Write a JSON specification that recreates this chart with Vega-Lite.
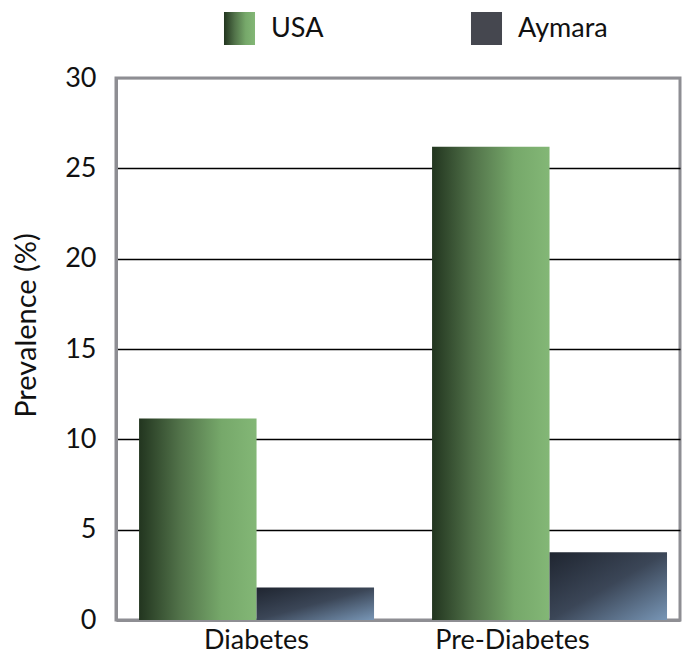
{
  "$schema": "https://vega.github.io/schema/vega-lite/v6.json",
  "autosize": {"type": "none"},
  "width": 564,
  "height": 542,
  "padding": {"left": 116, "top": 78, "right": 2, "bottom": 36},
  "background": "white",
  "config": {
    "font": "Lato",
    "view": {"stroke": "#8e8e93", "strokeWidth": 3}
  },
  "data": {
    "values": [
      {"category": "Diabetes", "group": "USA", "prevalence": 11.15},
      {"category": "Diabetes", "group": "Aymara", "prevalence": 1.8},
      {"category": "Pre-Diabetes", "group": "USA", "prevalence": 26.2},
      {"category": "Pre-Diabetes", "group": "Aymara", "prevalence": 3.75}
    ]
  },
  "encoding": {
    "x": {
      "field": "category",
      "type": "nominal",
      "sort": ["Diabetes", "Pre-Diabetes"],
      "scale": {"paddingInner": 0.198, "paddingOuter": 0.0615, "align": 0.64},
      "axis": {
        "title": null,
        "labelAngle": 0,
        "ticks": false,
        "domainColor": "#8e8e93",
        "domainWidth": 3,
        "labelFontSize": 27,
        "labelColor": "#111",
        "labelPadding": 7,
        "labelOffset": {"condition": {"test": "datum.value === 'Pre-Diabetes'", "value": -37}, "value": 0}
      }
    },
    "xOffset": {
      "field": "group",
      "type": "nominal",
      "sort": ["USA", "Aymara"],
      "scale": {"domain": ["USA", "Aymara"], "paddingInner": 0, "paddingOuter": 0}
    },
    "y": {
      "field": "prevalence",
      "type": "quantitative",
      "scale": {"domain": [0, 30], "nice": false},
      "axis": {
        "title": "Prevalence (%)",
        "values": [0, 5, 10, 15, 20, 25, 30],
        "ticks": false,
        "domainColor": "#8e8e93",
        "domainWidth": 3,
        "gridColor": {"condition": {"test": "datum.value === 0 || datum.value === 30", "value": "#8e8e93"}, "value": "black"},
        "gridWidth": 1.5,
        "labelFontSize": 27,
        "labelColor": "#111",
        "labelPadding": 20,
        "titleFontSize": 29,
        "titleFontWeight": "normal",
        "titleColor": "#111",
        "titleAngle": 270,
        "titleAlign": "center",
        "titleBaseline": "middle",
        "titleX": -90,
        "titleY": 247
      }
    }
  },
  "layer": [
    {
      "transform": [{"filter": "datum.group === 'USA'"}],
      "mark": {
        "type": "bar",
        "fill": {"gradient": "linear", "x1": 0, "y1": 0, "x2": 1, "y2": 0,
          "stops": [{"offset": 0, "color": "#22351f"}, {"offset": 0.35, "color": "#52734a"}, {"offset": 0.7, "color": "#76a86a"}, {"offset": 1, "color": "#83b776"}]}
      }
    },
    {
      "transform": [{"filter": "datum.group === 'Aymara'"}],
      "mark": {
        "type": "bar",
        "fill": {"gradient": "linear", "x1": 0, "y1": 0, "x2": 1, "y2": 1,
          "stops": [{"offset": 0, "color": "#1f2530"}, {"offset": 0.5, "color": "#3b4657"}, {"offset": 1, "color": "#7896b6"}]}
      }
    },
    {
      "mark": {
        "type": "point",
        "filled": true,
        "opacity": 0,
        "fill": {"expr": "(datum.value === 'USA' || datum.group === 'USA') ? {gradient: 'linear', x1: 0, y1: 0, x2: 1, y2: 0, stops: [{offset: 0, color: '#22351f'}, {offset: 0.35, color: '#52734a'}, {offset: 0.7, color: '#76a86a'}, {offset: 1, color: '#83b776'}]} : '#45474f'"}
      },
      "encoding": {
        "shape": {
          "field": "group",
          "type": "nominal",
          "scale": {"domain": ["USA", "Aymara"], "range": ["M-0.94,-1H0.94V1H-0.94Z", "M-0.94,-1H0.94V1H-0.94Z"]},
          "legend": {
            "title": null,
            "orient": "none",
            "legendX": 107,
            "legendY": -66,
            "direction": "horizontal",
            "symbolSize": 1089,
            "symbolStrokeWidth": 0,
            "symbolOpacity": 1,
            "labelFontSize": 27,
            "labelColor": "#111",
            "labelOffset": 15,
            "columnPadding": 146
          }
        }
      }
    }
  ]
}
